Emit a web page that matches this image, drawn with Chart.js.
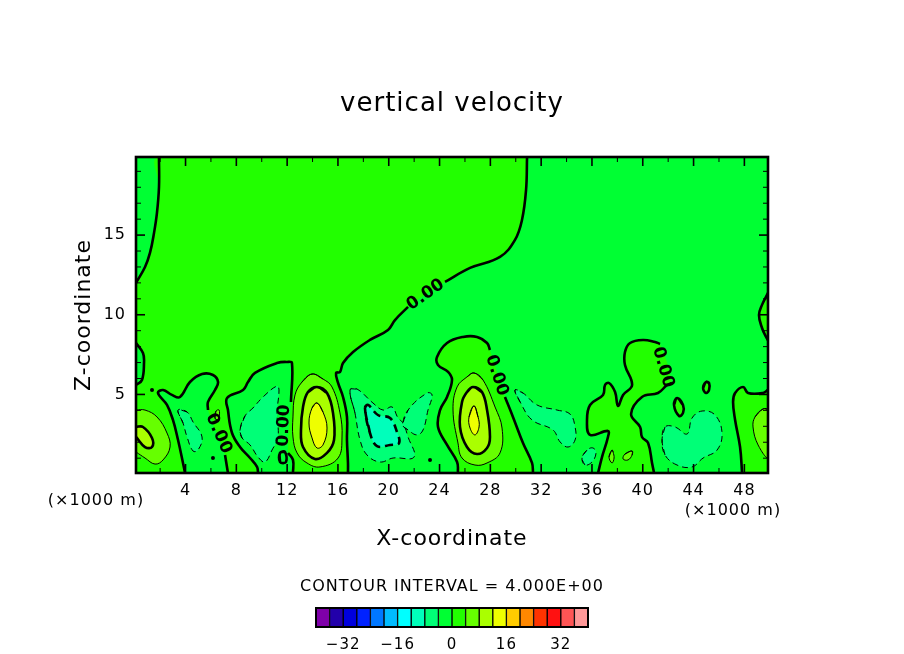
<!DOCTYPE html>
<html><head><meta charset="utf-8">
<script src="https://cdn.jsdelivr.net/npm/chart.js@4/dist/chart.umd.js"></script>
<style>html,body{margin:0;padding:0;background:#fff;width:904px;height:654px;overflow:hidden}
canvas{position:absolute}</style></head>
<body><canvas id="main" width="904" height="654" style="left:0;top:0"></canvas>
<canvas id="bar" width="352" height="79" style="left:276px;top:575px"></canvas>
<script>
// ---------- axes (x in 1000 m, z in 1000 m) ----------
const xMin=0.1, xMax=49.86, zMin=0.07, zMax=19.9;
const xLabelTicks=[4,8,12,16,20,24,28,32,36,40,44,48];
const xMinorTicks=[2,6,10,14,18,22,26,30,34,38,42,46];
const zLabelTicks=[5,10,15];
const zMinorTicks=[1,2,3,4,6,7,8,9,11,12,13,14,16,17,18,19];
// ---------- colour bar ----------
const barLevels=[-40,-36,-32,-28,-24,-20,-16,-12,-8,-4,0,4,8,12,16,20,24,28,32,36,40];
const barColors=['#7f00aa','#2200aa','#0000dd','#0022ff','#0077ff','#00bbff','#00ffff','#00ffbb','#00ff77','#00ff33','#22ff00','#66ff00','#aaff00','#eeff00','#ffcc00','#ff8800','#ff3300','#ff1111','#ff5555','#ff9999'];
const barTicks=[-32,-16,0,16,32];
// ---------- zero contour pieces ----------
const zeroMain1=[[30.89,19.9],[30.81,17.83],[30.49,15.95],[29.94,14.70],[28.76,13.63],[26.40,12.94],[24.43,12.06]];
const zeroMain2=[[21.52,10.49],[20.49,9.67],[19.94,9.05],[18.52,8.42],[17.19,7.66],[16.40,6.97],[16.16,6.41],[15.85,6.35],[16.01,5.72],[16.40,4.84],[16.71,3.59],[16.71,2.14],[16.79,0.70],[16.79,0.07]];
const zeroB=[[12.46,0.07],[12.46,0.89],[12.07,1.33]];
const zeroC=[[12.30,4.53],[12.38,6.97],[11.99,7.04],[11.20,6.97],[9.47,6.35],[8.92,5.78],[8.53,5.28],[7.27,4.78],[7.34,4.02],[7.66,2.58],[8.29,1.70],[9.08,1.01],[9.63,0.45],[9.71,0.07]];
const zeroD=[[7.34,0.07],[7.11,1.20]];
const zeroE=[[5.77,4.02],[5.77,4.53],[6.32,5.28],[6.56,5.78],[6.16,6.22],[5.30,6.28],[4.35,5.78],[3.56,4.84],[2.93,4.97],[2.23,5.28],[1.83,5.09],[2.54,4.34],[3.01,3.40],[3.41,2.14],[3.80,0.70],[3.96,0.07]];
const zeroF=[[0.1,5.59],[0.57,5.91],[0.73,6.97],[0.65,7.60],[0.1,8.23]];
const zeroG=[[0.1,12.0],[0.81,13.0],[1.2,13.88],[1.52,15.14],[1.75,16.39],[1.91,18.02],[1.91,19.9]];
const zeroIsland1a=[[25.45,0.07],[25.38,0.76],[24.59,1.83],[23.88,2.96],[24.04,4.02],[24.59,4.84],[24.98,5.91],[24.67,6.41],[23.88,6.85],[23.80,7.35],[24.59,8.23],[25.85,8.61],[26.95,8.61],[27.74,8.23],[27.97,7.79]];
const zeroIsland1b=[[29.15,4.84],[29.78,3.59],[30.57,1.95],[31.28,0.70],[31.36,0.07]];
const zeroIsland2a=[[36.48,0.07],[36.79,1.07],[37.26,2.33],[37.26,2.71],[35.85,2.46],[35.61,3.40],[35.85,4.34],[36.87,4.97],[37.03,5.59],[37.34,5.72],[37.82,5.15],[38.05,4.28],[38.45,4.97],[39.16,5.59],[38.60,6.85],[38.60,7.66],[39.0,8.23],[40.02,8.42],[40.97,8.29],[41.36,8.17]];
const zeroIsland2b=[[42.3,5.72],[41.91,5.59],[41.2,5.09],[39.94,4.84],[39.08,3.77],[39.79,2.96],[39.94,2.33],[40.42,1.95],[40.73,0.70],[40.89,0.07]];
const zeroIsland3=[[47.82,0.07],[47.66,1.70],[47.27,3.40],[47.11,4.53],[47.27,5.09],[47.9,5.47],[48.29,5.09],[49.47,5.09],[49.86,5.28]];
const zeroEdge=[[49.86,11.37],[49.39,10.62],[49.15,9.99],[49.39,9.17],[49.71,8.61],[49.86,8.4]];
const zeroBlob1=[[42.70,4.78],[42.46,4.34],[42.86,3.65],[43.17,3.84],[43.17,4.34],[42.70,4.78]];
const zeroBlob2=[[44.98,5.78],[44.75,5.41],[44.98,5.09],[45.22,5.28],[45.22,5.72],[44.98,5.78]];
const zeroRing=[[11.44,1.33],[11.83,1.39],[11.91,0.76],[11.44,0.76],[11.44,1.33]];
const zeroDotsX=[1.36,23.25,6.16];
const zeroDotsZ=[5.28,0.89,1.01];
// ---------- -4 contours ----------
const neg4A=[[3.41,4.02],[4.12,3.90],[4.59,3.27],[5.30,2.33],[4.98,1.51],[4.59,1.45],[4.12,2.33],[3.80,3.21],[3.41,4.02]];
const neg4B=[[8.29,2.77],[8.68,3.65],[9.31,4.15],[10.10,4.84],[11.20,5.53],[11.36,5.28],[11.20,3.84],[11.28,2.33],[10.81,1.51],[10.26,0.76],[9.71,1.07],[9.08,1.83],[8.45,2.27],[8.29,2.77]];
const neg4C=[[16.95,5.28],[17.50,5.34],[18.76,4.46],[19.55,4.02],[20.26,4.21],[20.73,3.52],[21.12,3.21],[21.52,2.33],[21.99,1.07],[20.34,1.01],[19.31,0.76],[18.29,1.20],[17.74,2.14],[17.34,3.84],[16.95,5.28]];
const neg4D=[[21.12,3.08],[21.52,4.02],[23.01,5.09],[23.41,4.97],[23.09,4.02],[22.70,2.77],[22.23,2.46],[21.52,2.77],[21.12,3.08]];
const neg4E=[[29.94,5.28],[30.57,5.09],[31.67,4.34],[33.25,4.02],[34.27,3.77],[34.67,2.96],[34.67,2.14],[34.12,1.70],[33.49,2.02],[32.93,2.77],[31.28,3.40],[30.34,4.53],[29.94,5.28]];
const neg4F=[[35.22,1.01],[35.61,1.51],[36.08,1.64],[36.32,1.33],[36.0,0.76],[35.45,0.57],[35.22,1.01]];
const neg4G=[[41.52,2.14],[41.75,2.96],[42.54,2.96],[43.49,2.52],[43.88,3.52],[44.67,3.96],[45.69,3.71],[46.24,2.58],[45.85,1.51],[44.75,1.01],[43.88,0.45],[42.70,0.57],[41.75,1.20],[41.52,2.14]];
const neg8C=[[18.13,4.15],[18.37,4.34],[19.15,3.71],[20.10,3.52],[20.65,2.64],[20.81,1.95],[20.10,1.83],[19.08,1.76],[18.52,2.58],[18.13,4.15]];
// ---------- positive contours ----------
const pos4Left=[[0.1,4.02],[0.81,4.02],[1.75,3.59],[2.54,2.58],[2.78,1.70],[2.23,0.89],[1.60,0.63],[0.81,1.01],[0.1,1.39]];
const pos8Left=[[0.1,2.96],[0.65,2.96],[1.36,2.27],[1.36,1.70],[0.81,1.70],[0.1,2.33]];
const pos4Hump14=[[13.96,6.28],[14.82,5.97],[15.53,5.47],[16.16,3.84],[16.32,2.33],[16.01,1.01],[14.59,0.45],[13.56,0.70],[12.78,1.33],[12.46,2.33],[12.46,3.59],[12.62,4.97],[13.17,5.78],[13.96,6.28]];
const pos8Hump14=[[14.35,5.47],[15.14,5.09],[15.61,3.84],[15.69,2.14],[15.14,1.33],[14.19,0.95],[13.25,1.70],[13.09,2.77],[13.25,4.21],[13.64,5.15],[14.35,5.47]];
const pos12Hump14=[[14.35,4.46],[14.82,3.90],[15.14,2.89],[14.82,1.83],[14.35,1.64],[13.96,2.27],[13.72,3.21],[13.96,4.15],[14.35,4.46]];
const pos4Hump27=[[26.71,6.35],[27.42,5.91],[28.37,4.21],[28.92,2.89],[28.76,1.33],[27.74,0.70],[26.79,0.57],[25.77,1.01],[25.45,1.95],[25.06,4.02],[25.38,5.47],[26.16,6.10],[26.71,6.35]];
const pos8Hump27=[[26.63,5.47],[27.34,5.15],[27.74,4.02],[27.97,2.33],[27.74,1.64],[26.95,1.26],[26.16,1.70],[25.61,2.96],[25.77,4.53],[26.16,5.15],[26.63,5.47]];
const pos12Hump27=[[26.71,4.28],[27.03,3.59],[27.11,2.96],[26.79,2.46],[26.40,2.89],[26.32,3.59],[26.71,4.28]];
const pos4Right=[[49.47,4.09],[49.86,4.02],[49.86,1.07],[49.08,1.83],[48.68,2.96],[48.84,3.59],[49.47,4.09]];
const pos4Small1=[[37.58,1.51],[37.34,1.07],[37.58,0.70],[37.74,1.01],[37.66,1.39],[37.58,1.51]];
const pos4Small2=[[39.16,1.45],[38.6,1.26],[38.45,0.95],[38.84,0.89],[39.16,1.20],[39.16,1.45]];
const pos4Small3=[[6.32,3.52],[6.40,3.96],[6.64,4.02],[6.64,3.59],[6.48,3.40],[6.32,3.52]];
// ---------- contour labels ----------
const contourLabelText='0.00';
const contourLabelX=[22.9,6.6,11.75,28.5,41.6];
const contourLabelZ=[11.25,2.55,3.05,6.2,6.7];
const contourLabelAngle=[-35,66,-88,72,74];

const C={base:'#00ff33',pos0:'#22ff00',pos4:'#66ff00',pos8:'#aaff00',pos12:'#eeff00',neg4:'#00ff77',neg8:'#00ffbb'};
const THICK=2.6, THIN=1, TENSION=0.4;
// closed loops repeat their neighbours so the curve has no kink at the start point
const isLoop=a=>a.length>3&&a[0][0]===a[a.length-1][0]&&a[0][1]===a[a.length-1][1];
const smooth=a=>isLoop(a)?[a[a.length-2],...a,a[1]]:a;
const pts=a=>smooth(a).map(([x,y])=>({x,y}));
const layers=[];
function fillOnly(a,color){layers.push({data:pts(a),showLine:true,fill:'shape',backgroundColor:color,borderWidth:0,borderColor:'transparent',pointRadius:0,tension:TENSION});}
function lineOnly(a,w,dash){layers.push({data:pts(a),showLine:true,fill:false,borderColor:'#000',borderWidth:w,borderDash:dash||[],pointRadius:0,tension:TENSION});}
function shape(a,color,w,dash){fillOnly(a,color);lineOnly(a,w,dash);}
function regionFill(a,color){layers.push({data:a.map(([x,y])=>({x,y})),showLine:true,fill:'shape',backgroundColor:color,borderWidth:0,borderColor:'transparent',pointRadius:0,tension:TENSION});}

regionFill([[xMin,zMin],[xMin,zMax],[xMax,zMax],[xMax,zMin],[xMin,zMin]],C.base);
const mainRegion=[...zeroMain1,...zeroMain2,...zeroB,...zeroC,...zeroD,...zeroE,[xMin,zMin],...zeroF,...zeroG,zeroMain1[0]];
regionFill(mainRegion,C.pos0);
regionFill([...zeroIsland1a,...zeroIsland1b,zeroIsland1a[0]],C.pos0);
regionFill([...zeroIsland2a,...zeroIsland2b,zeroIsland2a[0]],C.pos0);
regionFill([...zeroIsland3,[xMax,zMin],zeroIsland3[0]],C.pos0);
regionFill([...zeroEdge,zeroEdge[0]],C.pos0);
fillOnly(zeroBlob1,C.pos0);fillOnly(zeroBlob2,C.pos0);
[zeroMain1,zeroMain2,zeroB,zeroC,zeroD,zeroE,zeroF,zeroG,zeroIsland1a,zeroIsland1b,zeroIsland2a,zeroIsland2b,zeroIsland3,zeroEdge,zeroBlob1,zeroBlob2,zeroRing].forEach(a=>lineOnly(a,THICK));
[neg4A,neg4B,neg4C,neg4D,neg4E,neg4F,neg4G].forEach(a=>shape(a,C.neg4,THIN,[6,4]));
shape(neg8C,C.neg8,THICK,[8,5]);
[pos4Left,pos4Hump14,pos4Hump27,pos4Right,pos4Small1,pos4Small2,pos4Small3].forEach(a=>shape(a,C.pos4,THIN));
[pos8Left,pos8Hump14,pos8Hump27].forEach(a=>shape(a,C.pos8,THICK));
[pos12Hump14,pos12Hump27].forEach(a=>shape(a,C.pos12,THIN));
layers.push({data:zeroDotsX.map((x,i)=>({x,y:zeroDotsZ[i]})),showLine:false,pointRadius:2,pointBackgroundColor:'#000',pointBorderWidth:0});
layers.forEach((d,i)=>{d.order=layers.length-i;});

const FONT='"DejaVu Sans"';
const spacing=px=>({id:'sp',beforeDraw(c){c.ctx.letterSpacing=px;}});
const frameTicks={id:'frameTicks',afterDatasetsDraw(c){
  const {ctx,chartArea:a,scales:{x,y}}=c;
  ctx.save();ctx.strokeStyle='#000';ctx.lineCap='butt';
  const tick=(px,py,dx,dy,w)=>{ctx.lineWidth=w;ctx.beginPath();ctx.moveTo(px,py);ctx.lineTo(px+dx,py+dy);ctx.stroke();};
  xLabelTicks.forEach(v=>{const p=x.getPixelForValue(v);tick(p,a.bottom,0,-9,1.6);tick(p,a.top,0,9,1.6);});
  xMinorTicks.forEach(v=>{const p=x.getPixelForValue(v);tick(p,a.bottom,0,-5,1);tick(p,a.top,0,5,1);});
  zLabelTicks.forEach(v=>{const p=y.getPixelForValue(v);tick(a.left,p,9,0,1.6);tick(a.right,p,-9,0,1.6);});
  zMinorTicks.forEach(v=>{const p=y.getPixelForValue(v);tick(a.left,p,5,0,1);tick(a.right,p,-5,0,1);});
  ctx.lineWidth=2.6;ctx.strokeRect(a.left,a.top,a.right-a.left,a.bottom-a.top);
  ctx.fillStyle='#000';ctx.textAlign='center';ctx.textBaseline='middle';
  contourLabelX.forEach((v,i)=>{ctx.save();ctx.translate(x.getPixelForValue(v),y.getPixelForValue(contourLabelZ[i]));
    ctx.rotate(contourLabelAngle[i]*Math.PI/180);ctx.font='bold 17px '+FONT;ctx.letterSpacing='0px';ctx.fillText(contourLabelText,0,0);ctx.restore();});
  ctx.font='16px '+FONT;ctx.letterSpacing='1px';
  ctx.fillText('(\u00d71000 m)',a.left-40,a.bottom+28);
  ctx.fillText('(\u00d71000 m)',a.right-35,a.bottom+38);
  ctx.restore();
}};
new Chart(document.getElementById('main'),{type:'scatter',
 data:{datasets:layers},
 plugins:[spacing('1px'),frameTicks],
 options:{responsive:false,animation:false,devicePixelRatio:1,
  layout:{padding:{left:0,right:0,top:0,bottom:99}},
  plugins:{legend:{display:false},tooltip:{enabled:false},
   title:{display:true,text:'vertical velocity',color:'#000',font:{family:FONT,size:26,weight:'normal',lineHeight:1.2},padding:{top:88.9,bottom:36.9}}},
  scales:{
   x:{type:'linear',min:xMin,max:xMax,grid:{display:false,drawTicks:false},border:{display:false},
      afterBuildTicks:s=>{s.ticks=xLabelTicks.map(value=>({value}));},afterFit:s=>{s.height=82;},
      ticks:{color:'#000',font:{family:FONT,size:16},padding:8,maxRotation:0,autoSkip:false,callback:v=>String(v)},
      title:{display:true,text:'X-coordinate',color:'#000',font:{family:FONT,size:22,lineHeight:1.2},padding:{top:0,bottom:2.8}}},
   y:{type:'linear',min:zMin,max:zMax,grid:{display:false,drawTicks:false},border:{display:false},
      afterBuildTicks:s=>{s.ticks=zLabelTicks.map(value=>({value}));},afterFit:s=>{s.width=136;},
      ticks:{color:'#000',font:{family:FONT,size:16},padding:10,autoSkip:false,callback:v=>String(v)},
      title:{display:true,text:'Z-coordinate',color:'#000',font:{family:FONT,size:22,lineHeight:1.2},padding:{top:70.8,bottom:0}}},
   yRightMargin:{type:'linear',position:'right',display:true,grid:{display:false,drawTicks:false},border:{display:false},
      ticks:{display:false},afterFit:s=>{s.width=136;}}
  }}});

// ---------- colour bar chart ----------
const barSets=barColors.map((col,i)=>({data:[[barLevels[i],barLevels[i+1]]],backgroundColor:col,borderColor:'#000',borderWidth:1,borderSkipped:false,barPercentage:1,categoryPercentage:1,grouped:false}));
const barFrame={id:'barFrame',afterDatasetsDraw(c){const {ctx,chartArea:a}=c;ctx.save();ctx.strokeStyle='#000';ctx.lineWidth=2;ctx.strokeRect(a.left,a.top,a.right-a.left,a.bottom-a.top);ctx.restore();}};
const marginScale=pos=>({type:'linear',position:pos,display:true,grid:{display:false,drawTicks:false},border:{display:false},ticks:{display:false},afterFit:s=>{s.width=40;}});
new Chart(document.getElementById('bar'),{type:'bar',
 data:{labels:['w'],datasets:barSets},
 plugins:[spacing('1px'),barFrame],
 options:{indexAxis:'y',responsive:false,animation:false,devicePixelRatio:1,
  layout:{padding:0},
  plugins:{legend:{display:false},tooltip:{enabled:false},
   title:{display:true,text:'CONTOUR INTERVAL = 4.000E+00',color:'#000',font:{family:FONT,size:16,weight:'normal',lineHeight:1.2},padding:{top:2.4,bottom:11.4}}},
  scales:{
   x:{type:'linear',min:-40,max:40,grid:{display:false,drawTicks:false},border:{display:false},
      afterBuildTicks:s=>{s.ticks=barTicks.map(value=>({value}));},afterFit:s=>{s.height=27;},
      ticks:{color:'#000',font:{family:FONT,size:15},padding:9,maxRotation:0,autoSkip:false,callback:v=>v<0?'\u2212'+Math.abs(v):String(v)}},
   y:{type:'category',display:false,stacked:false},
   marginLeft:marginScale('left'),
   marginRight:marginScale('right')
  }}});
</script></body></html>
